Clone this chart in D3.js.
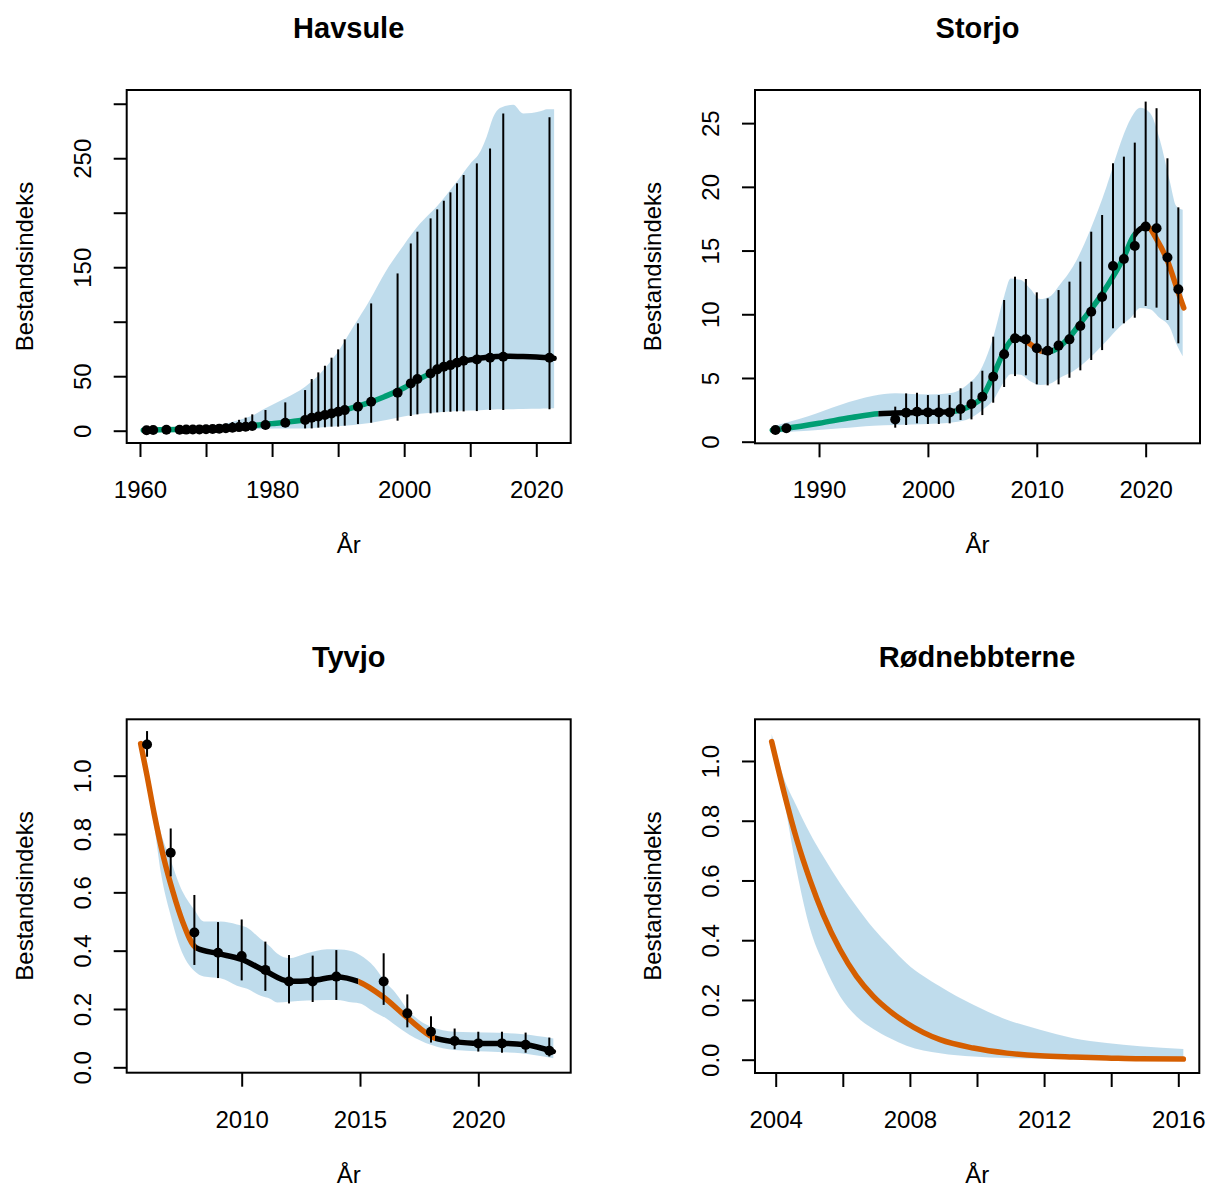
<!DOCTYPE html>
<html lang="no">
<head>
<meta charset="utf-8">
<title>Bestandsindeks</title>
<script src="https://cdn.jsdelivr.net/npm/d3@7"></script>
<style>
  body { margin: 0; background: #fff; }
  svg text { font-family: "Liberation Sans", Arial, Helvetica, sans-serif; fill: #000; }
</style>
</head>
<body>
<script>

// ---- Havsule ----
var havYears = [1961,1962,1964,1966,1967,1968,1969,1970,1971,1972,1973,1974,1975,1976,1977,1979,1982,1985,1986,1987,1988,1989,1990,1991,1993,1995,1999,2001,2002,2004,2005,2006,2007,2008,2009,2011,2013,2015,2022];
var havIndex = [0.5,0.6,0.8,0.9,1.0,1.1,1.2,1.4,1.6,1.9,2.3,2.8,3.3,3.7,4.3,5.2,7.3,9.8,11.9,13.1,14.4,15.9,17.4,18.9,22.0,26.6,34.9,43.4,47.4,52.6,56.3,58.7,60.2,62.4,64.2,65.4,67.0,67.9,67.0];
var havHi = [0.7,0.9,1.2,1.5,1.7,2.0,2.4,3.0,3.8,5.0,6.5,8.0,10.0,12.0,15.0,19.0,26.0,37.3,47.4,53.5,59.6,67.0,74.6,83.8,98.5,116.8,144.3,171.8,182.6,194.8,203.1,211.0,218.7,227.0,234.6,245.3,259.0,291.1,287.5];
var havLo = [0.3,0.4,0.5,0.5,0.6,0.6,0.7,0.7,0.8,0.9,1.0,1.1,1.1,1.2,1.2,2.1,3.7,2.1,2.1,2.8,3.1,3.7,3.7,4.6,6.1,7.3,9.2,13.5,15.0,15.9,16.8,17.1,17.4,17.7,17.7,18.0,18.9,18.9,19.6];
var havTrendYears = [1960.5,1961,1962,1964,1966,1968,1970,1972,1974,1976,1978,1980,1982,1985,1988,1991,1994,1997,2000,2002,2004,2006,2008,2010,2012,2014,2016,2018,2020,2022.7];
var havTrend = [0.5,0.6,0.7,0.9,1.1,1.4,1.8,2.4,3.2,4.2,5.3,6.5,7.7,10.0,14.4,19.0,24.3,31.2,39.4,46.5,52.6,58.0,62.5,65.0,67.0,68.0,68.4,68.1,67.6,66.5];
var havBandYears = [1960.5,1965,1970,1972,1975,1977.2,1979,1982,1985,1987.3,1989.8,1992.3,1994.8,1997.3,1999.9,2002.4,2004.9,2007.4,2010,2011.5,2012.5,2013.5,2014.5,2016.5,2018,2020.6,2021.6,2022.7];
var havBandHi = [1,1.5,3.5,5.2,9.8,14.4,20.5,29.7,40.4,52.6,71,95.4,120,147,170,190,205.5,224,245,256,270,288,296,299,291,293,295,295];
var havBandLo = [0.3,0.5,0.8,1.0,1.2,1.5,1.8,2.0,2.1,3.0,4.0,5.2,7.0,9.8,13.0,15.5,16.8,17.8,18.5,18.8,19.2,19.4,19.6,19.8,20,20.2,20.4,20.5];
var havSegments = [[1960.5,2004.4,"up"],[2004.4,2022.7,"flat"]];
var havXTicks = [1960,1970,1980,1990,2000,2010,2020];
var havXLabels = ["1960","","1980","","2000","","2020"];
var havYTicks = [0,50,100,150,200,250,300];
var havYLabels = ["0","50","","150","","250",""];

// ---- Storjo ----
var stoYears = [1986,1987,1997,1998,1999,2000,2001,2002,2003,2004,2005,2006,2007,2008,2009,2010,2011,2012,2013,2014,2015,2016,2017,2018,2019,2020,2021,2022,2023];
var stoIndex = [0.92,1.05,1.75,2.28,2.35,2.30,2.30,2.30,2.56,2.96,3.53,5.10,6.86,8.11,8.03,7.33,7.14,7.54,8.03,9.08,10.20,11.36,13.79,14.34,15.36,16.88,16.75,14.45,11.96];
var stoHi = [0.95,1.08,2.75,3.79,3.84,3.66,3.66,3.66,4.19,4.71,5.57,8.24,11.12,12.95,12.77,11.72,11.25,11.90,12.56,14.13,16.48,17.79,21.85,22.37,23.47,26.69,26.17,22.24,18.39];
var stoLo = [0.90,1.02,1.10,1.31,1.44,1.39,1.39,1.44,1.70,1.75,2.09,3.06,4.29,5.15,5.21,4.50,4.42,4.50,5.02,5.60,6.41,7.19,8.90,9.29,9.73,10.65,10.52,9.55,7.72];
var stoTrendYears = [1985.7,1987,1990,1993,1995.45,1997,1999,2001,2002.5,2003,2004,2005,2006,2007,2007.7,2008,2009.07,2010,2010.45,2011,2011.5,2012,2013,2014,2015,2016,2017,2018,2018.86,2019.5,2020,2020.24,2021,2022,2023,2023.5];
var stoTrend = [0.9,1.05,1.45,1.9,2.2,2.25,2.3,2.32,2.4,2.5,2.85,3.5,5.2,7.1,8.0,8.15,7.85,7.3,7.1,7.06,7.15,7.4,8.2,9.3,10.4,11.6,12.95,14.5,16.1,16.7,16.9,16.85,15.9,14.2,11.7,10.5];
var stoBandYears = [1985.7,1989,1992,1995,1997,2000,2002,2003.5,2005,2006,2007,2007.6,2008.5,2009.4,2010.3,2011.2,2012.1,2013.3,2014.9,2016.4,2017.6,2018.6,2019.5,2020.4,2021.3,2022.2,2022.8,2023.4];
var stoBandHi = [1.2,2.0,2.9,3.6,3.8,3.7,3.8,4.4,5.9,8.2,11.4,12.8,12.7,12.0,11.2,11.4,12.3,13.7,16.6,20.0,23.2,25.3,26.2,25.8,23.7,20.5,18.5,18.2];
var stoBandLo = [0.7,0.86,1.05,1.26,1.31,1.39,1.49,1.70,2.49,3.27,4.71,5.30,5.25,4.75,4.45,4.55,5.0,5.5,6.6,7.9,9.0,9.7,10.5,10.4,9.7,9.0,7.7,6.7];
var stoSegments = [[1985.7,1995.45,"up"],[1995.45,2002.5,"flat"],[2002.5,2007.7,"up"],[2007.7,2009.07,"flat"],[2009.07,2010.45,"down"],[2010.45,2011.5,"flat"],[2011.5,2018.86,"up"],[2018.86,2020.24,"flat"],[2020.24,2023.5,"down"]];
var stoXTicks = [1990,2000,2010,2020];
var stoXLabels = ["1990","2000","2010","2020"];
var stoYTicks = [0,5,10,15,20,25];
var stoYLabels = ["0","5","10","15","20","25"];

// ---- Tyvjo ----
var tyvYears = [2006,2007,2008,2009,2010,2011,2012,2013,2014,2016,2017,2018,2019,2020,2021,2022,2023];
var tyvIndex = [1.107,0.736,0.462,0.393,0.382,0.334,0.294,0.294,0.311,0.294,0.185,0.122,0.090,0.082,0.082,0.077,0.057];
var tyvHi = [1.153,0.819,0.591,0.498,0.507,0.431,0.385,0.383,0.402,0.391,0.250,0.175,0.133,0.122,0.122,0.119,0.102];
var tyvLo = [1.065,0.655,0.351,0.306,0.298,0.262,0.219,0.224,0.231,0.214,0.137,0.085,0.062,0.054,0.050,0.050,0.037];
var tyvTrendYears = [2005.73,2006.0,2006.3,2006.7,2007.1,2007.5,2008.07,2009,2010,2011,2012,2013,2014,2014.93,2016,2017,2018.17,2019,2020,2021,2022,2023.17];
var tyvTrend = [1.11,1.00,0.87,0.72,0.60,0.50,0.41,0.39,0.37,0.33,0.295,0.298,0.31,0.294,0.24,0.17,0.10,0.088,0.082,0.082,0.077,0.054];
var tyvBandYears = [2005.73,2006.0,2006.3,2006.6,2007.0,2007.4,2008.0,2008.4,2009.1,2009.8,2010.2,2010.8,2011.2,2011.5,2012.0,2012.75,2013.6,2014.0,2014.7,2015.0,2015.6,2016.1,2016.4,2017.1,2018.0,2019.0,2020.35,2021.8,2023.17];
var tyvBandHi = [1.12,1.02,0.90,0.80,0.71,0.62,0.54,0.50,0.50,0.49,0.48,0.44,0.414,0.39,0.374,0.391,0.405,0.405,0.397,0.385,0.345,0.29,0.265,0.19,0.139,0.122,0.119,0.114,0.099];
var tyvBandLo = [1.10,0.99,0.83,0.66,0.52,0.41,0.33,0.311,0.305,0.28,0.27,0.245,0.235,0.222,0.225,0.229,0.231,0.231,0.222,0.219,0.19,0.168,0.15,0.111,0.077,0.059,0.054,0.048,0.031];
var tyvSegments = [[2005.73,2008.07,"down"],[2008.07,2014.93,"flat"],[2014.93,2018.17,"down"],[2018.17,2023.17,"flat"]];
var tyvXTicks = [2010,2015,2020];
var tyvXLabels = ["2010","2015","2020"];
var tyvYTicks = [0,0.2,0.4,0.6,0.8,1.0];
var tyvYLabels = ["0.0","0.2","0.4","0.6","0.8","1.0"];

// ---- Rødnebbterne (no counts, only the model) ----
var rodYears = [2003.88,2004.23,2004.63,2005.02,2005.42,2005.92,2006.41,2006.91,2007.41,2007.9,2008.9,2009.89,2010.89,2011.88,2012.87,2013.87,2014.86,2016.15];
var rodTrend = [1.065,0.903,0.736,0.602,0.485,0.368,0.279,0.212,0.162,0.123,0.067,0.039,0.022,0.013,0.009,0.006,0.003,0.002];
var rodBandHi = [1.09,0.947,0.847,0.758,0.68,0.591,0.513,0.44,0.379,0.323,0.245,0.184,0.134,0.10,0.072,0.056,0.045,0.036];
var rodBandLo = [1.06,0.88,0.63,0.44,0.323,0.212,0.145,0.103,0.072,0.047,0.022,0.011,0.006,0.004,0.002,0.001,0.001,0.001];
var rodSegments = [[2003.88,2016.15,"down"]];
var rodXTicks = [2004,2006,2008,2010,2012,2014,2016];
var rodXLabels = ["2004","","2008","","2012","","2016"];
var rodYTicks = [0,0.2,0.4,0.6,0.8,1.0];
var rodYLabels = ["0.0","0.2","0.4","0.6","0.8","1.0"];

var colours = { up: "#009E73", down: "#D55E00", flat: "#000000" };

var svg = d3.select("body").append("svg")
	.attr("width", 1208)
	.attr("height", 1189);

function drawPanel(p) {
	var x = d3.scaleLinear().domain(p.xDomain).range([p.left, p.right]);
	var y = d3.scaleLinear().domain(p.yDomain).range([p.bottom, p.top]);
	var g = svg.append("g");

	// confidence band
	var band = p.bandYears.map(function(yr, i) { return { x: yr, lo: p.bandLo[i], hi: p.bandHi[i] }; });
	g.append("path")
		.datum(band)
		.attr("d", d3.area().curve(d3.curveMonotoneX)
			.x(function(d) { return x(d.x); })
			.y0(function(d) { return y(d.lo); })
			.y1(function(d) { return y(d.hi); }))
		.attr("fill", "#0072B2")
		.attr("fill-opacity", 0.25);

	// trend, coloured piece by piece with clip rects
	var trend = p.trendYears.map(function(yr, i) { return { x: yr, v: p.trendValues[i] }; });
	var line = d3.line().curve(d3.curveMonotoneX)
		.x(function(d) { return x(d.x); })
		.y(function(d) { return y(d.v); });
	p.segments.forEach(function(s, i) {
		var cid = p.id + "-seg" + i;
		var x0 = x(s[0]), x1 = x(s[1]);
		if (i === 0) x0 -= 6;
		if (i === p.segments.length - 1) x1 += 6;
		svg.append("clipPath").attr("id", cid)
			.append("rect")
			.attr("x", x0).attr("width", x1 - x0)
			.attr("y", p.top - 10).attr("height", p.bottom - p.top + 20);
		g.append("path")
			.datum(trend)
			.attr("d", line)
			.attr("clip-path", "url(#" + cid + ")")
			.attr("fill", "none")
			.attr("stroke", colours[s[2]])
			.attr("stroke-width", 5.5)
			.attr("stroke-linecap", "round")
			.attr("stroke-linejoin", "round");
	});

	// counts with error bars
	if (p.obsYears) {
		g.selectAll("line.err")
			.data(p.obsYears)
			.enter()
			.append("line")
			.attr("class", "err")
			.attr("x1", function(d) { return x(d); })
			.attr("x2", function(d) { return x(d); })
			.attr("y1", function(d, i) { return y(p.obsLo[i]); })
			.attr("y2", function(d, i) { return y(p.obsHi[i]); })
			.attr("stroke", "#000")
			.attr("stroke-width", 2);
		g.selectAll("circle")
			.data(p.obsYears)
			.enter()
			.append("circle")
			.attr("cx", function(d) { return x(d); })
			.attr("cy", function(d, i) { return y(p.obsValues[i]); })
			.attr("r", 5)
			.attr("fill", "#000");
	}

	// axes
	var gx = g.append("g")
		.attr("transform", "translate(0," + p.bottom + ")")
		.call(d3.axisBottom(x).tickValues(p.xTicks).tickSize(14).tickSizeOuter(0)
			.tickFormat(function(d, i) { return p.xLabels[i]; }));
	gx.select(".domain").remove();
	gx.selectAll("line").attr("stroke", "#000").attr("stroke-width", 2);
	gx.selectAll("text")
		.attr("y", 55).attr("dy", 0)
		.attr("font-size", 24)
		.attr("font-family", null);

	var gy = g.append("g")
		.attr("transform", "translate(" + p.left + ",0)")
		.call(d3.axisLeft(y).tickValues(p.yTicks).tickSize(13).tickSizeOuter(0)
			.tickFormat(function(d, i) { return p.yLabels[i]; }));
	gy.select(".domain").remove();
	gy.selectAll("line").attr("stroke", "#000").attr("stroke-width", 2);
	gy.selectAll("text")
		.attr("x", 0).attr("dy", 0)
		.attr("text-anchor", "middle")
		.attr("transform", "translate(-36,0) rotate(-90)")
		.attr("font-size", 24);

	// box
	g.append("rect")
		.attr("x", p.left).attr("y", p.top)
		.attr("width", p.right - p.left).attr("height", p.bottom - p.top)
		.attr("fill", "none")
		.attr("stroke", "#000")
		.attr("stroke-width", 2);

	var cx = (p.left + p.right) / 2, cy = (p.top + p.bottom) / 2;
	g.append("text")
		.text(p.title)
		.attr("x", cx).attr("y", p.top - 52)
		.attr("text-anchor", "middle")
		.attr("font-size", 29)
		.attr("font-weight", "bold");
	g.append("text")
		.text("År")
		.attr("x", cx).attr("y", p.bottom + 110)
		.attr("text-anchor", "middle")
		.attr("font-size", 24);
	g.append("text")
		.text("Bestandsindeks")
		.attr("transform", "translate(" + (p.left - 94) + "," + cy + ") rotate(-90)")
		.attr("text-anchor", "middle")
		.attr("font-size", 24);
}

drawPanel({
	id: "hav", title: "Havsule",
	left: 126.7, right: 570.7, top: 90, bottom: 443,
	xDomain: [1957.99, 2025.21], yDomain: [-11.28, 312.6],
	bandYears: havBandYears, bandLo: havBandLo, bandHi: havBandHi,
	trendYears: havTrendYears, trendValues: havTrend, segments: havSegments,
	obsYears: havYears, obsValues: havIndex, obsLo: havLo, obsHi: havHi,
	xTicks: havXTicks, xLabels: havXLabels, yTicks: havYTicks, yLabels: havYLabels
});

drawPanel({
	id: "sto", title: "Storjo",
	left: 755, right: 1200, top: 90, bottom: 443.3,
	xDomain: [1984.12, 2024.99], yDomain: [-0.126, 27.6],
	bandYears: stoBandYears, bandLo: stoBandLo, bandHi: stoBandHi,
	trendYears: stoTrendYears, trendValues: stoTrend, segments: stoSegments,
	obsYears: stoYears, obsValues: stoIndex, obsLo: stoLo, obsHi: stoHi,
	xTicks: stoXTicks, xLabels: stoXLabels, yTicks: stoYTicks, yLabels: stoYLabels
});

drawPanel({
	id: "tyv", title: "Tyvjo",
	left: 126.7, right: 570.7, top: 719.3, bottom: 1072.7,
	xDomain: [2005.14, 2023.905], yDomain: [-0.0185, 1.1934],
	bandYears: tyvBandYears, bandLo: tyvBandLo, bandHi: tyvBandHi,
	trendYears: tyvTrendYears, trendValues: tyvTrend, segments: tyvSegments,
	obsYears: tyvYears, obsValues: tyvIndex, obsLo: tyvLo, obsHi: tyvHi,
	xTicks: tyvXTicks, xLabels: tyvXLabels, yTicks: tyvYTicks, yLabels: tyvYLabels
});

drawPanel({
	id: "rod", title: "Rødnebbterne",
	left: 755, right: 1199.3, top: 719.3, bottom: 1073,
	xDomain: [2003.383, 2016.626], yDomain: [-0.0445, 1.1395],
	bandYears: rodYears, bandLo: rodBandLo, bandHi: rodBandHi,
	trendYears: rodYears, trendValues: rodTrend, segments: rodSegments,
	obsYears: null,
	xTicks: rodXTicks, xLabels: rodXLabels, yTicks: rodYTicks, yLabels: rodYLabels
});

</script>
</body>
</html>
